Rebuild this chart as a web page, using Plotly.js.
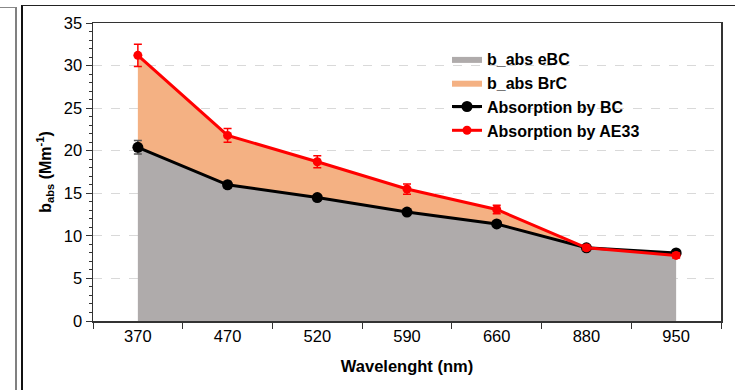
<!DOCTYPE html>
<html>
<head>
<meta charset="utf-8">
<script src="https://cdn.plot.ly/plotly-3.0.1.min.js"></script>
<style>
  html, body { margin: 0; padding: 0; background: #ffffff; }
  #wrap { position: relative; width: 735px; height: 390px; overflow: hidden; background: #fff; }
  #chart { position: absolute; left: 0; top: 0; width: 735px; height: 390px; }
  .frame { position: absolute; pointer-events: none; }
</style>
</head>
<body>
<div id="wrap">
  <div id="chart"></div>
  <div class="frame" style="left:0;top:7px;width:15px;height:383px;border-top:1px solid #888;border-right:2px solid #808080;"></div>
  <div class="frame" style="left:21px;top:5px;width:712px;height:390px;border-top:1.5px solid #222;border-left:2px solid #111;"></div>
</div>
<script>
const wavelengths = ['370', '470', '520', '590', '660', '880', '950'];
const absEBC  = [20.4, 16.0, 14.5, 12.8, 11.4, 8.6, 8.0];
const absBrC  = [10.8, 5.8, 4.2, 2.7, 1.7, 0.0, 0.0];
const absBC   = [20.4, 16.0, 14.5, 12.8, 11.4, 8.6, 8.0];
const errBC   = [0.8, 0.4, 0.3, 0.3, 0.3, 0.2, 0.2];
const absAE33 = [31.2, 21.8, 18.7, 15.5, 13.1, 8.6, 7.7];
const errAE33 = [1.3, 0.8, 0.7, 0.6, 0.5, 0.3, 0.3];
const yTicks  = [0, 5, 10, 15, 20, 25, 30, 35];

const FONT = 'Liberation Sans, Arial, sans-serif';

const traces = [
  {
    x: wavelengths, y: absEBC, type: 'scatter', mode: 'lines',
    name: 'b_abs eBC', stackgroup: 'one',
    fillcolor: '#AFABAB', line: { width: 0, color: '#AFABAB' }
  },
  {
    x: wavelengths, y: absBrC, type: 'scatter', mode: 'lines',
    name: 'b_abs BrC', stackgroup: 'one',
    fillcolor: '#F4B183', line: { width: 0, color: '#F4B183' }
  },
  {
    x: wavelengths, y: absBC, type: 'scatter', mode: 'lines+markers',
    name: 'Absorption by BC',
    line: { color: '#000000', width: 3 },
    marker: { color: '#000000', size: 11 },
    error_y: { type: 'data', array: errBC, visible: true, color: '#555555', thickness: 1.5, width: 4 }
  },
  {
    x: wavelengths, y: absAE33, type: 'scatter', mode: 'lines+markers',
    name: 'Absorption by AE33',
    line: { color: '#FF0000', width: 3 },
    marker: { color: '#FF0000', size: 9 },
    error_y: { type: 'data', array: errAE33, visible: true, color: '#FF0000', thickness: 1.5, width: 4 }
  }
];

const layout = {
  width: 735, height: 390,
  margin: { l: 93, r: 14, t: 23, b: 69, pad: 0 },
  paper_bgcolor: '#ffffff', plot_bgcolor: '#ffffff',
  font: { family: FONT, size: 16, color: '#000000' },
  showlegend: true,
  legend: {
    x: (447 - 93) / 628, y: 1 - (42 - 23) / 298, xanchor: 'left', yanchor: 'top',
    traceorder: 'normal', bgcolor: 'rgba(0,0,0,0)',
    font: { family: FONT, size: 16, color: '#000000', weight: 'bold' },
    itemwidth: 30, tracegroupgap: 0
  },
  xaxis: {
    type: 'category', range: [-0.5, 6.5],
    tickson: 'boundaries', ticks: 'outside', ticklen: 6, tickcolor: '#333',
    showline: true, linecolor: '#333', linewidth: 1.5, mirror: true,
    showgrid: false, zeroline: false,
    tickfont: { family: FONT, size: 16.5, color: '#000' },
    title: { text: '<b>Wavelenght (nm)</b>', font: { family: FONT, size: 16.5, color: '#000' }, standoff: 16 }
  },
  yaxis: {
    range: [0, 35], tickvals: yTicks, ticktext: yTicks.map(String),
    ticks: 'outside', ticklen: 6, tickcolor: '#333',
    minor: { dtick: 1, ticks: 'outside', ticklen: 3, tickcolor: '#333', showgrid: false },
    showline: true, linecolor: '#333', linewidth: 1.5, mirror: true,
    showgrid: true, gridcolor: '#D9D9D9', griddash: 'dash', gridwidth: 1,
    zeroline: false,
    tickfont: { family: FONT, size: 16.5, color: '#000' },
    title: { text: '<b>b<sub>abs</sub> (Mm<sup>-1</sup>)</b>', font: { family: FONT, size: 16, color: '#000' }, standoff: 8 }
  }
};

Plotly.newPlot('chart', traces, layout, { displayModeBar: false, staticPlot: true });
</script>
</body>
</html>
